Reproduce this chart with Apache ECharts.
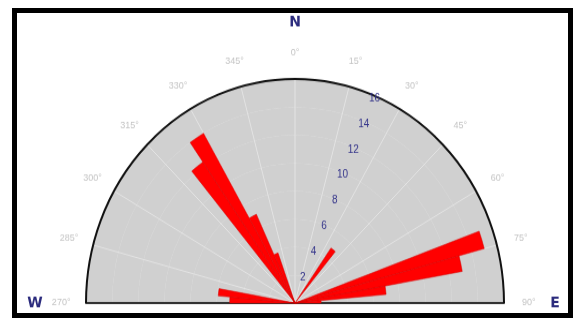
<!DOCTYPE html>
<html>
<head>
<meta charset="utf-8">
<script src="https://cdn.jsdelivr.net/npm/echarts@6/dist/echarts.min.js"></script>
<style>
  html, body { margin: 0; padding: 0; background: #fff; overflow: hidden; }
  .chart-container { position: relative; width: 573px; height: 318px; overflow: hidden; }
  .frame {
    position: absolute; left: 12px; top: 8px; right: 0; bottom: 0; z-index: 2;
    border: 5px solid #000; box-sizing: border-box;
  }
  /* the source picture is a little taller than wide, stretch it to match */
  .chart {
    position: absolute; top: 0; left: 0; width: 573px; height: 318px;
    transform: scaleY(1.072); transform-origin: 295px 303px;
  }
</style>
</head>
<body>
<div class="chart-container">
  <div class="frame"></div>
  <div id="chart" class="chart"></div>
</div>
<script>
// 5 degree bins, from west (270) clockwise through north to east (90)
const bins = [
  '270', '275', '280', '285', '290', '295', '300', '305', '310', '315', '320', '325',
  '330', '335', '340', '345', '350', '355', '0', '5', '10', '15', '20', '25',
  '30', '35', '40', '45', '50', '55', '60', '65', '70', '75', '80', '85'
];
const counts = [
  5.0, 5.9, 0, 0, 0, 0, 0, 0, 0, 0, 12.3, 14.0,
  7.0, 3.8, 0, 0, 0, 0, 0, 0, 0, 0, 0, 0,
  0, 4.8, 0, 0, 0, 0, 0, 0, 15.0, 13.0, 7.0, 2.0
];
// angle ticks every 15 degrees (-90 = west, 0 = north, 90 = east) and their labels
const angleTicks = [-90, -75, -60, -45, -30, -15, 0, 15, 30, 45, 60, 75, 90];
const angleLabels = ['270°', '285°', '300°', '315°', '330°', '345°', '0°', '15°', '30°', '45°', '60°', '75°', '90°'];
const radiusLabels = [2, 4, 6, 8, 10, 12, 14, 16];

const center = [295, 303];
const radius = 209;
const labelRing = 17.9; // radius value where the degree labels sit

const hidden = {
  axisLine: { show: false },
  axisTick: { show: false },
  axisLabel: { show: false },
  splitLine: { show: false },
  splitArea: { show: false }
};

const option = {
  animation: false,
  polar: [
    { center: center, radius: radius },
    { center: center, radius: radius },
    { center: center, radius: radius },
    { center: center, radius: radius }
  ],
  angleAxis: [
    {
      // bars
      polarIndex: 0,
      type: 'category',
      data: bins,
      startAngle: 180,
      endAngle: 0,
      boundaryGap: true,
      ...hidden
    },
    {
      // grid spokes and the outer arc
      polarIndex: 1,
      type: 'value',
      min: -90,
      max: 90,
      interval: 15,
      startAngle: 180,
      endAngle: 0,
      ...hidden,
      axisLine: { show: true, lineStyle: { color: '#111', width: 2 } },
      splitLine: { show: true, lineStyle: { color: '#e4e4e4', width: 1 } }
    },
    {
      // right half of the base line
      polarIndex: 2,
      type: 'value',
      min: 0,
      max: 180,
      startAngle: 0,
      endAngle: -180,
      ...hidden
    },
    {
      // carries the radius labels
      polarIndex: 3,
      type: 'value',
      min: 0,
      max: 360,
      startAngle: 66,
      ...hidden
    }
  ],
  radiusAxis: [
    {
      polarIndex: 0,
      type: 'value',
      min: 0,
      max: 16,
      interval: 2,
      ...hidden
    },
    {
      polarIndex: 1,
      type: 'value',
      min: 0,
      max: 16,
      interval: 2,
      axisLine: { show: true, lineStyle: { color: '#333', width: 2 } },
      axisTick: { show: false },
      axisLabel: { show: false },
      splitLine: { show: true, lineStyle: { color: '#e4e4e4', width: 1 } },
      splitArea: { show: true, areaStyle: { color: ['#d0d0d0', '#d0d0d0'] } }
    },
    {
      polarIndex: 2,
      type: 'value',
      min: 0,
      max: 16,
      ...hidden,
      axisLine: { show: true, lineStyle: { color: '#333', width: 2 } }
    },
    {
      polarIndex: 3,
      type: 'value',
      min: 0,
      max: 16,
      interval: 2,
      ...hidden,
      axisLabel: {
        show: true,
        margin: 0,
        color: '#34348a',
        fontSize: 10,
        formatter: v => radiusLabels.indexOf(v) >= 0 ? String(v) : ''
      }
    }
  ],
  graphic: [
    // hides the rings that run on below the base line
    { type: 'rect', z: 10, shape: { x: 0, y: 304, width: 573, height: 30 }, style: { fill: '#fff' } },
    { type: 'text', z: 11, x: 295, y: 41, style: { text: 'N', fill: '#2b2b7d', font: 'bold 14px "DejaVu Sans"', align: 'center', verticalAlign: 'middle' } },
    { type: 'text', z: 11, x: 35, y: 303, style: { text: 'W', fill: '#2b2b7d', font: 'bold 14px "DejaVu Sans"', align: 'center', verticalAlign: 'middle' } },
    { type: 'text', z: 11, x: 555, y: 303, style: { text: 'E', fill: '#2b2b7d', font: 'bold 14px "DejaVu Sans"', align: 'center', verticalAlign: 'middle' } }
  ],
  series: [
    {
      type: 'bar',
      coordinateSystem: 'polar',
      polarIndex: 0,
      data: counts,
      barWidth: '100%',
      barCategoryGap: 0,
      itemStyle: { color: '#ff0000', borderColor: '#d40000', borderWidth: 0.5 },
      z: 3
    },
    {
      // degree labels, centred on a ring just outside the arc
      type: 'scatter',
      coordinateSystem: 'polar',
      polarIndex: 1,
      clip: false,
      symbolSize: 1,
      itemStyle: { color: 'rgba(0,0,0,0)' },
      silent: true,
      z: 12,
      data: angleTicks.map((a, i) => ({ value: [labelRing, a], name: angleLabels[i] })),
      label: {
        show: true,
        position: 'inside',
        color: '#b4b4b4',
        fontSize: 9,
        formatter: p => p.name
      }
    }
  ]
};

const initChart = () => {
  const chartInstance = echarts.init(document.getElementById('chart'));
  chartInstance.setOption(option);
};
initChart();
</script>
</body>
</html>
